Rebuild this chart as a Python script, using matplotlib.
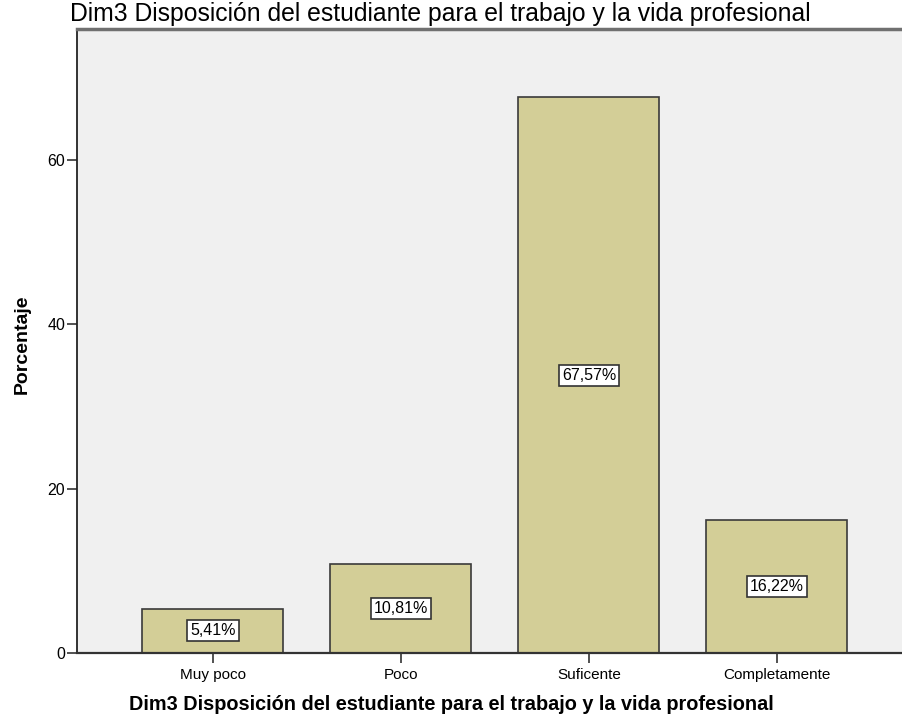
import matplotlib.pyplot as plt
import numpy as np

plt.rcParams['font.family'] = ['Liberation Sans', 'DejaVu Sans']

categorias = ['Muy poco', 'Poco', 'Suficente', 'Completamente']
porcentajes = [5.41, 10.81, 67.57, 16.22]
etiquetas = ['5,41%', '10,81%', '67,57%', '16,22%']
titulo = 'Dim3 Disposición del estudiante para el trabajo y la vida profesional'

fig = plt.figure(figsize=(9.02, 7.18), dpi=100)
ax = fig.add_axes([77/902, 1-653/718, 1-77/902, (653-29)/718])
ax.set_facecolor('#F0F0F0')

x = np.arange(len(categorias))
ax.bar(x, porcentajes, width=0.75, color='#D3CE97', edgecolor='#3A3A3A', linewidth=1.2, zorder=2)

# etiquetas con caja blanca en el centro de cada barra
caja = {'facecolor': 'white', 'edgecolor': '#333333', 'boxstyle': 'square,pad=0.18', 'linewidth': 1.2}
for xi, v, t in zip(x, porcentajes, etiquetas):
    ax.text(xi, v/2, t, ha='center', va='center', fontsize=11.5, bbox=caja, zorder=3)

ax.set_xlim(-0.723, 3.665)
ax.set_ylim(0, 75.9)
ax.set_yticks([0, 20, 40, 60])
ax.set_xticks(x)
ax.set_xticklabels(categorias)
ax.tick_params(axis='y', length=7.5, width=1.2, labelsize=11.5, pad=1, color='#333333')
ax.tick_params(axis='x', length=7.5, width=1.2, labelsize=11, pad=3, color='#333333')

ax.spines['right'].set_visible(False)
ax.spines['top'].set_color('#707070')
ax.spines['top'].set_linewidth(2.5)
ax.spines['left'].set_color('#222222')
ax.spines['left'].set_linewidth(1.3)
ax.spines['bottom'].set_color('#333333')
ax.spines['bottom'].set_linewidth(1.6)

fig.text(70/902, 1-14.5/718, titulo, fontsize=17.8, ha='left', va='center')
fig.text(0.5, 1-705/718, titulo, fontsize=14.3, fontweight='bold', ha='center', va='center')
fig.text(22/902, 1-344/718, 'Porcentaje', fontsize=14, fontweight='bold', rotation=90, ha='center', va='center')

fig.savefig('out.png', dpi=100)
